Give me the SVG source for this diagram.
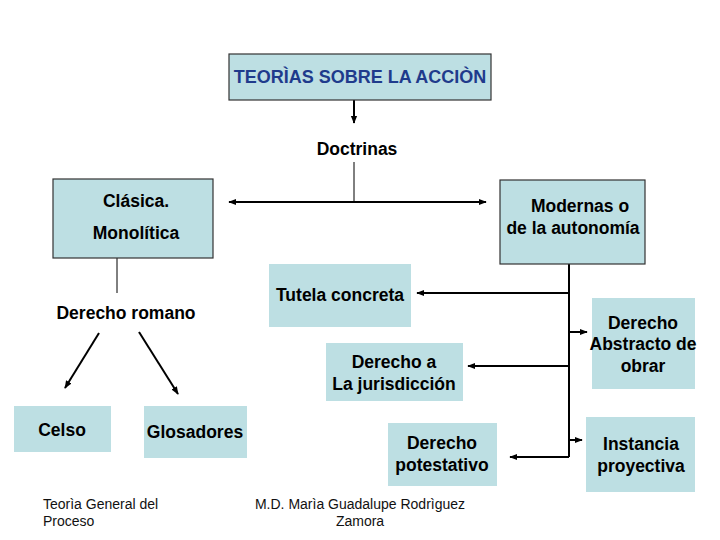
<svg xmlns="http://www.w3.org/2000/svg" width="720" height="540" viewBox="0 0 720 540">
<defs>
<style>
.box{fill:#bddfe3;}
.bbox{fill:#bddfe3;stroke:#333;stroke-width:1.2;}
.t{font-family:"Liberation Sans",Arial,sans-serif;font-weight:bold;font-size:17.5px;fill:#000;text-anchor:middle;}
.title{font-family:"Liberation Sans",Arial,sans-serif;font-weight:bold;font-size:18px;fill:#1f3b8c;text-anchor:middle;}
.f{font-family:"Liberation Sans",Arial,sans-serif;font-size:14px;fill:#111;}
.c{stroke:#000;stroke-width:2;fill:none;}
.thin{stroke:#000;stroke-width:1;fill:none;}
</style>
<marker id="ah" viewBox="0 0 10 10" refX="9" refY="5" markerWidth="4" markerHeight="4" orient="auto-start-reverse" markerUnits="strokeWidth">
<path d="M0,1 L10,5 L0,9 Z" fill="#000"/>
</marker>
</defs>
<rect width="720" height="540" fill="#fff"/>
<g id="connectors">
<line class="c" x1="354" y1="100" x2="354" y2="123" marker-end="url(#ah)"/>
<line class="thin" x1="354" y1="162" x2="354" y2="202"/>
<line class="c" x1="229" y1="202" x2="486" y2="202" marker-start="url(#ah)" marker-end="url(#ah)"/>
<line class="thin" x1="117" y1="258" x2="117" y2="293"/>
<line class="c" x1="99" y1="333" x2="65" y2="388" marker-end="url(#ah)"/>
<line class="c" x1="139" y1="332" x2="178" y2="394" marker-end="url(#ah)"/>
<line class="c" x1="569" y1="264" x2="569" y2="457"/>
<line class="c" x1="569" y1="293" x2="417" y2="293" marker-end="url(#ah)"/>
<line class="c" x1="569" y1="332" x2="587" y2="332" marker-end="url(#ah)"/>
<line class="c" x1="569" y1="366" x2="468" y2="366" marker-end="url(#ah)"/>
<line class="c" x1="569" y1="440" x2="582" y2="440" marker-end="url(#ah)"/>
<line class="c" x1="569" y1="457" x2="510" y2="457" marker-end="url(#ah)"/>
</g>
<g id="title">
<rect class="bbox" x="229" y="54" width="262" height="46"/>
<text class="title" x="360" y="83">TEORÌAS SOBRE LA ACCIÒN</text>
</g>
<g id="doctrinas">
<text class="t" x="357" y="155">Doctrinas</text>
</g>
<g id="clasica">
<rect class="bbox" x="53" y="179" width="160" height="79"/>
<text class="t" x="136" y="207">Clásica.</text>
<text class="t" x="136" y="239">Monolítica</text>
</g>
<g id="modernas">
<rect class="bbox" x="500" y="180" width="145" height="84"/>
<text class="t" x="580" y="212">Modernas o</text>
<text class="t" x="573" y="234">de la autonomía</text>
</g>
<g id="derecho-romano">
<text class="t" x="126" y="319">Derecho romano</text>
</g>
<g id="celso">
<rect class="box" x="14" y="406" width="97" height="46"/>
<text class="t" x="62" y="436">Celso</text>
</g>
<g id="glosadores">
<rect class="box" x="144" y="406" width="103" height="52"/>
<text class="t" x="195" y="438">Glosadores</text>
</g>
<g id="tutela">
<rect class="box" x="269" y="264" width="142" height="63"/>
<text class="t" x="340" y="301">Tutela concreta</text>
</g>
<g id="jurisdiccion">
<rect class="box" x="326" y="343" width="137" height="58"/>
<text class="t" x="394" y="368">Derecho a</text>
<text class="t" x="394" y="390">La jurisdicción</text>
</g>
<g id="potestativo">
<rect class="box" x="388" y="423" width="109" height="63"/>
<text class="t" x="442" y="449">Derecho</text>
<text class="t" x="442" y="471">potestativo</text>
</g>
<g id="abstracto">
<rect class="box" x="592" y="298" width="103" height="91"/>
<text class="t" x="643" y="329">Derecho</text>
<text class="t" x="643" y="350">Abstracto de</text>
<text class="t" x="643" y="372">obrar</text>
</g>
<g id="instancia">
<rect class="box" x="586" y="417" width="109" height="75"/>
<text class="t" x="641" y="450">Instancia</text>
<text class="t" x="641" y="472">proyectiva</text>
</g>
<g id="footer">
<text class="f" x="43" y="509">Teorìa General del</text>
<text class="f" x="43" y="526">Proceso</text>
<text class="f" x="360" y="509" text-anchor="middle">M.D. Marìa Guadalupe Rodrìguez</text>
<text class="f" x="360" y="526" text-anchor="middle">Zamora</text>
</g>
</svg>
